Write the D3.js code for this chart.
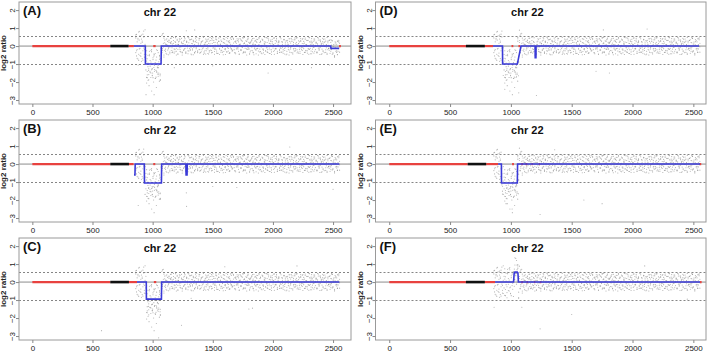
<!DOCTYPE html>
<html>
<head>
<meta charset="utf-8">
<script src="https://cdn.jsdelivr.net/npm/d3@7"></script>
<style>
  body { margin: 0; background: #fff; }
  svg { display: block; font-family: "Liberation Sans", Arial, sans-serif; }
</style>
</head>
<body>
<script>
// --- Data ---
const panelNames = ["(A)", "(B)", "(C)", "(D)", "(E)", "(F)"];
const chromLabel = "chr 22";
const xTicks = [0, 500, 1000, 1500, 2000, 2500];
const yTicks = [-3, -2, -1, 0, 1, 2];
const gainLine = 0.58;
const lossLine = -1;

// probe positions shared by all six arrays (same design)
const probeX = [860, 866, 871, 878, 884, 889, 895, 902, 907, 913, 919, 926, 931, 937, 944, 950, 955, 961, 968, 973,
  979, 986, 991, 997, 1003, 1010, 1015, 1021, 1028, 1033, 1040, 1046, 1051, 1057, 1064, 1070, 1076, 1082, 1089, 1094,
  1100, 1107, 1112, 1118, 1125, 1131, 1136, 1143, 1149, 1155, 1161, 1167, 1173, 1179, 1186, 1191, 1197, 1204, 1210, 1215,
  1222, 1228, 1234, 1240, 1246, 1252, 1258, 1265, 1270, 1276, 1283, 1289, 1294, 1301, 1307, 1313, 1319, 1325, 1331, 1338,
  1343, 1349, 1356, 1362, 1367, 1374, 1380, 1386, 1392, 1398, 1404, 1410, 1417, 1422, 1428, 1435, 1441, 1446, 1453, 1459,
  1465, 1471, 1477, 1483, 1490, 1495, 1501, 1508, 1514, 1519, 1526, 1532, 1538, 1544, 1550, 1556, 1563, 1568, 1574, 1581,
  1587, 1592, 1599, 1605, 1611, 1617, 1623, 1629, 1636, 1641, 1647, 1654, 1660, 1665, 1672, 1678, 1684, 1690, 1696, 1702,
  1709, 1714, 1720, 1727, 1733, 1738, 1745, 1751, 1757, 1763, 1769, 1775, 1782, 1787, 1793, 1800, 1806, 1811, 1818, 1824,
  1830, 1836, 1842, 1848, 1855, 1860, 1866, 1873, 1879, 1884, 1891, 1897, 1903, 1909, 1915, 1921, 1928, 1933, 1939, 1946,
  1952, 1957, 1964, 1970, 1976, 1982, 1988, 1994, 2001, 2006, 2012, 2019, 2025, 2030, 2037, 2043, 2049, 2055, 2061, 2067,
  2074, 2079, 2085, 2092, 2098, 2103, 2110, 2116, 2122, 2128, 2134, 2140, 2147, 2152, 2158, 2165, 2171, 2176, 2183, 2189,
  2195, 2201, 2207, 2213, 2220, 2225, 2231, 2238, 2244, 2249, 2256, 2262, 2268, 2274, 2280, 2286, 2293, 2298, 2304, 2311,
  2317, 2322, 2329, 2335, 2341, 2347, 2353, 2359, 2366, 2371, 2377, 2384, 2390, 2395, 2402, 2408, 2414, 2420, 2426, 2432,
  2439, 2444, 2450, 2457, 2463, 2468, 2475, 2481, 2487, 2493, 2499, 2505, 2512, 2517, 2523, 2530, 2536, 2541, 2548, 2554];

// scatter of the probes around their segment level, in steps of 0.013 log2 ratio
const spreadStep = 0.013;
const spreadA = [35, -42, 18, -55, 60, -12, 44, -30, -65, 22, 51, -8, -47, 70, -25, 13, -58, 38, -20, 55,
  -36, 9, 62, -48, 27, -15, 40, -62, 17, -33, 58, -6, -44, 31, -70, 24, 46, -18, 12, -38,
  14, -22, 8, 31, -17, -5, 26, -33, 11, 19, -28, 4, 37, -12, -24, 16, -9, 29, -35, 7,
  22, -15, -3, 33, -26, 12, -19, 25, 6, -31, 17, -8, 39, -21, 2, -14, 28, -37, 10, 21,
  -6, -27, 34, -11, 15, -20, 3, 26, -30, 9, 18, -16, 41, -4, -25, 13, -34, 22, 7, -12,
  30, -19, -2, 24, -29, 11, 36, -7, -23, 16, -14, 27, -32, 5, 20, -9, 38, -18, 1, -26,
  14, 31, -13, -36, 8, 23, -5, -21, 17, -28, 35, -10, 4, -17, 29, -3, 19, -33, 12, -8,
  25, -22, 6, 32, -15, -1, 21, -30, 10, 37, -24, 3, -12, 27, -6, 16, -35, 13, -19, 24,
  8, -27, 33, -4, -16, 20, -11, 28, -38, 7, 15, -23, 2, 30, -13, -29, 18, 9, -20, 36,
  -7, -15, 23, -32, 11, 4, -25, 19, -2, 34, -18, 12, -9, 26, -31, 6, 21, -14, 39, -26,
  1, 17, -21, 29, -10, -4, 24, -34, 14, 8, -17, 31, -6, -28, 20, 3, -12, 27, -22, 10,
  35, -16, 5, -30, 18, -8, 23, -3, -19, 32, -11, 13, -27, 7, 25, -20, 2, 38, -14, -33,
  16, 9, -24, 21, -5, 30, -15, 11, -29, 4, 26, -9, -36, 19, 6, -13, 33, -21, 15, -2,
  22, -7, -31, 14, 3, -18, 27, -12, 36, -25, 9, 17, -34, 5, 24, -10, -27, 31, -1, 12];

const spreadB = [-28, 50, -15, 33, -61, 26, -40, 12, 47, -53, -20, 64, -35, 8, 41, -57, 23, -11, -45, 36,
  -9, 58, -24, -50, 19, 43, -31, 6, -56, 30, -13, 49, -38, 21, -66, 15, -27, 52, -4, 34,
  -18, 9, 27, -35, 2, -11, 23, -26, 15, 34, -7, -21, 12, -30, 19, 5, -38, 25, -14, 8,
  31, -23, -3, 17, -29, 11, -16, 36, -9, -25, 21, 4, -33, 14, 27, -19, -6, 30, -12, -37,
  18, 7, -22, 26, -1, -28, 13, 33, -15, 3, -24, 20, -10, 37, -31, 6, 16, -20, 29, -5,
  -34, 22, 10, -17, 32, -27, 1, 24, -13, -8, 35, -30, 15, -2, 21, -36, 9, 26, -18, -4,
  31, -23, 12, -11, 38, -26, 5, 19, -32, 14, -7, 28, -21, 2, 33, -15, -29, 17, -3, 23,
  -12, 30, -35, 8, -19, 25, -6, 36, -24, 11, -28, 4, 20, -14, 34, -9, -31, 16, -1, 27,
  -20, 13, -37, 22, 6, -17, 29, -10, 3, 32, -25, 18, -4, -33, 24, -13, 9, 37, -21, 1,
  15, -27, 30, -8, -16, 26, -36, 12, 7, -23, 35, -11, -2, 19, -30, 14, 22, -19, -7, 31,
  -26, 8, -14, 28, -34, 17, 3, -22, 25, -5, -38, 20, -12, 33, 0, -29, 16, -9, 27, -18,
  5, 36, -24, 11, -3, -32, 21, -15, 29, -6, 10, -27, 34, -20, 2, 24, -11, -35, 18, 8,
  -21, 32, -13, 6, -30, 23, -1, 15, -25, 37, -8, -17, 26, -4, 12, -33, 19, 9, -28, 30,
  -16, 4, -36, 21, -10, 25, -7, -22, 14, 33, -19, 1, -31, 28, -12, 18, -26, 7, 35, -3];

const spreadC = [48, -20, -52, 27, -35, 63, -9, -44, 30, 16, -60, 39, -14, -49, 25, 57, -32, 4, -67, 42,
  15, -38, 53, -21, -58, 34, -5, 45, -27, 61, -16, -52, 10, 37, -43, 68, -29, -11, 55, -47,
  26, -13, -31, 6, 20, -37, 15, -4, 33, -19, 10, -27, 24, 1, -15, 36, -22, 8, -33, 18,
  -7, 29, -25, 13, -38, 4, 22, -12, 31, -29, 17, -1, -20, 35, -9, 27, -34, 11, -17, 25,
  3, -30, 19, -6, 38, -24, 9, -14, 32, -28, 14, -3, 23, -36, 7, -18, 30, -11, 21, -32,
  12, -25, 37, -2, -19, 26, -8, 16, -35, 4, 28, -21, 10, -31, 34, -13, 6, -26, 20, -5,
  -37, 15, 29, -16, 2, -23, 33, -10, 24, -30, 8, -15, 36, -20, 13, -1, -28, 22, -12, 31,
  -6, 18, -34, 9, 27, -17, -3, 35, -27, 14, -9, 23, -38, 5, 30, -14, 11, -24, 19, -4,
  32, -29, 7, -11, 25, -33, 16, 0, -21, 37, -13, 21, -30, 3, 28, -18, 10, -36, 17, -7,
  -25, 34, -2, 12, -32, 20, -16, 29, -8, 6, -35, 24, -12, 33, -22, 1, 15, -27, 38, -10,
  19, -5, -31, 26, -19, 9, -37, 22, 4, -14, 31, -26, 13, -3, 27, -34, 8, -20, 35, -11,
  16, -29, 2, 23, -15, -24, 32, -7, 11, -36, 20, -1, 28, -18, 6, -30, 25, -13, 36, -9,
  21, -33, 14, -6, 30, -22, 3, 17, -28, 10, 34, -16, -4, 26, -35, 12, -21, 29, -2, 18,
  -27, 7, 37, -15, -10, 24, -31, 15, -5, 33, -23, 9, -38, 19, 2, -17, 31, -12, 27, -26,
  5, -19, 22, -30, 13, 36, -8, -25, 18, -3];

// probes that fall far below the loss (same region in A-E)
const lossTail = [[950, -2.05], [955, -1.6], [962, -1.9], [966, -1.35], [970, -2.2], [978, -1.4], [985, -1.75],
  [992, -2.5], [996, -1.25], [1000, -1.5], [1008, -2.0], [1012, -2.7], [1016, -1.3], [1024, -1.8], [1031, -2.3],
  [1035, -1.45], [1040, -1.55], [1048, -1.2], [1056, -1.95], [1062, -1.65]];

// stray probes, one list per panel
const strayA = [[880, -1.05], [945, -2.7], [1180, -1.2], [1280, 0.85], [1350, 0.9], [1500, -1.1], [1960, -1.5], [2150, -1.3], [2320, -1.2], [2470, -1.05]];
const strayB = [[880, -2.3], [1280, -1.6], [1282, -2.35], [1500, -1.25], [1700, -1.3], [2140, 0.95], [2500, -1.4]];
const strayC = [[575, -2.7], [1050, -3.1], [1240, -2.4], [1320, -0.9], [1600, 0.85], [1800, -1.5], [1830, -1.45], [2200, 0.9]];
const strayD = [[950, -2.4], [1043, -1.75], [1065, -2.6], [1210, -2.75], [1700, -1.4], [1760, 0.9], [1810, -1.5], [2120, 0.95]];
const strayE = [[960, -2.2], [1010, -2.5], [1240, -2.8], [1360, 0.8], [1600, -2.0], [1750, -2.2]];
const strayF = [[862, -1.4], [1050, 0.95], [1090, -1.4], [1240, -2.6], [1500, -1.8], [2100, 0.9], [2450, -0.95]];

// segmented calls [start, end, log2 ratio] (blue)
const callsA = [[844, 939, 0], [940, 1070, -1], [1072, 2480, 0], [2483, 2550, -0.13]];
const callsB = [[845, 853, -0.6], [855, 931, 0], [932, 1073, -1.05], [1075, 1276, 0], [1278, 1286, -0.6], [1288, 2552, 0]];
const callsC = [[870, 947, 0], [948, 1073, -0.95], [1075, 2552, 0]];
const callsD = [[853, 931, 0], [932, 1053, -1], [1083, 1199, 0], [1200, 1206, -0.65], [1207, 2547, 0]];
const callsE = [[895, 922, 0], [923, 1053, -1.05], [1055, 2555, 0]];
const callsF = [[870, 1022, 0], [1027, 1032, 0.5], [1033, 1052, 0.56], [1057, 1058, 0.5], [1062, 2555, 0]];

// no-call stretches (red) and the centromere gap (black)
const redA = [[0, 648], [800, 844], [1005, 1025], [2550, 2565]];
const redB = [[0, 648], [800, 842], [1005, 1022]];
const redC = [[0, 648], [803, 870], [1010, 1030]];
const redD = [[0, 630], [786, 853], [1005, 1020], [1062, 1075]];
const redE = [[0, 645], [797, 895], [1010, 1025], [1085, 1100], [1120, 1135], [1170, 1180], [1230, 1240], [2550, 2565]];
const redF = [[0, 630], [786, 870], [1085, 1100], [1130, 1140], [1190, 1200], [1240, 1250], [2555, 2568]];
const blackA = [[648, 800]];
const blackB = [[648, 803]];
const blackC = [[648, 803]];
const blackD = [[630, 786]];
const blackE = [[645, 797]];
const blackF = [[630, 786]];

const panels = [
  { name: panelNames[0], col: 0, row: 0, calls: callsA, red: redA, black: blackA, stray: strayA, tail: true },
  { name: panelNames[1], col: 0, row: 1, calls: callsB, red: redB, black: blackB, stray: strayB, tail: true },
  { name: panelNames[2], col: 0, row: 2, calls: callsC, red: redC, black: blackC, stray: strayC, tail: true },
  { name: panelNames[3], col: 1, row: 0, calls: callsD, red: redD, black: blackD, stray: strayD, tail: true },
  { name: panelNames[4], col: 1, row: 1, calls: callsE, red: redE, black: blackE, stray: strayE, tail: true },
  { name: panelNames[5], col: 1, row: 2, calls: callsF, red: redF, black: blackF, stray: strayF, tail: false }
];

// --- Layout ---
const W = 709, H = 353;
const cols = [
  { x0: 19, x1: 351, domain: [-111, 2649], title: 1060 },
  { x0: 375.5, x1: 706, domain: [-113, 2604], title: 1135 }
];
const rowTops = [2, 120, 238];
const boxH = 102;
const yDomain = [-3.22, 2.45];

const svg = d3.select("body").append("svg")
  .attr("width", W)
  .attr("height", H)
  .attr("viewBox", `0 0 ${W} ${H}`);

svg.append("rect").attr("width", W).attr("height", H).attr("fill", "#fff");

function levelAt(calls, x) {
  const c = calls.find(s => x >= s[0] && x <= s[1]);
  return c ? c[2] : 0;
}

panels.forEach(p => {
  const col = cols[p.col];
  const top = rowTops[p.row];
  const bottom = top + boxH;

  const x = d3.scaleLinear().domain(col.domain).range([col.x0, col.x1]);
  const y = d3.scaleLinear().domain(yDomain).range([bottom, top]);

  const g = svg.append("g");

  // reference lines
  g.append("line")
    .attr("x1", col.x0).attr("x2", col.x1)
    .attr("y1", y(0)).attr("y2", y(0))
    .attr("stroke", "#8c8c8c").attr("stroke-width", 1);

  [gainLine, lossLine].forEach(v => {
    g.append("line")
      .attr("x1", col.x0).attr("x2", col.x1)
      .attr("y1", Math.round(y(v)) + 0.5).attr("y2", Math.round(y(v)) + 0.5)
      .attr("stroke", "#777").attr("stroke-width", 0.9)
      .attr("stroke-dasharray", "2,2");
  });

  // probe scatter: three probes per position
  const n = Math.min(probeX.length, spreadA.length, spreadB.length, spreadC.length);
  const probes = [];
  for (let i = 0; i < n; i++) {
    const lv = levelAt(p.calls, probeX[i]);
    probes.push([probeX[i], lv + spreadA[i] * spreadStep]);
    probes.push([probeX[i], lv + spreadB[i] * spreadStep]);
    probes.push([probeX[i], lv + spreadC[i] * spreadStep]);
  }
  if (p.tail) lossTail.forEach(d => probes.push(d));
  p.stray.forEach(d => probes.push(d));

  g.selectAll("circle.probe")
    .data(probes)
    .join("circle")
    .attr("class", "probe")
    .attr("cx", d => x(d[0]))
    .attr("cy", d => y(d[1]))
    .attr("r", 0.55)
    .attr("fill", "#8f8f8f")
    .attr("opacity", 0.7);

  // red / black stretches
  g.selectAll("line.red")
    .data(p.red)
    .join("line")
    .attr("class", "red")
    .attr("x1", d => x(d[0])).attr("x2", d => x(d[1]))
    .attr("y1", y(0)).attr("y2", y(0))
    .attr("stroke", "#e8423f").attr("stroke-width", 2.2);

  g.selectAll("line.gap")
    .data(p.black)
    .join("line")
    .attr("class", "gap")
    .attr("x1", d => x(d[0])).attr("x2", d => x(d[1]))
    .attr("y1", y(0)).attr("y2", y(0))
    .attr("stroke", "#111").attr("stroke-width", 2.6);

  // blue segmentation path
  const verts = [];
  p.calls.forEach(c => { verts.push([c[0], c[2]]); verts.push([c[1], c[2]]); });
  g.append("path")
    .datum(verts)
    .attr("fill", "none")
    .attr("stroke", "#3a3ad8")
    .attr("stroke-width", 1.6)
    .attr("d", d3.line().x(d => x(d[0])).y(d => y(d[1])));

  // frame
  g.append("rect")
    .attr("x", col.x0).attr("y", top)
    .attr("width", col.x1 - col.x0).attr("height", boxH)
    .attr("fill", "none").attr("stroke", "#9a9a9a").attr("stroke-width", 1);

  // axes
  const xAxis = g.append("g")
    .attr("transform", `translate(0,${bottom})`)
    .call(d3.axisBottom(x).tickValues(xTicks).tickFormat(d3.format("d")).tickSize(3).tickPadding(2));
  xAxis.select(".domain").remove();
  xAxis.selectAll("line").attr("stroke", "#888");
  xAxis.selectAll("text").style("font-size", "8px").attr("fill", "#222");

  const yAxis = g.append("g")
    .attr("transform", `translate(${col.x0},0)`)
    .call(d3.axisLeft(y).tickValues(yTicks).tickFormat(d3.format("d")).tickSize(3));
  yAxis.select(".domain").remove();
  yAxis.selectAll("line").attr("stroke", "#888");
  yAxis.selectAll("text")
    .attr("x", null).attr("dy", null)
    .attr("text-anchor", "middle")
    .attr("transform", "translate(-4,0) rotate(-90)")
    .style("font-size", "8px").attr("fill", "#222");

  g.append("text")
    .attr("transform", `translate(${col.x0 - 13},${top + boxH / 2}) rotate(-90)`)
    .attr("text-anchor", "middle")
    .style("font-size", "8px").style("font-weight", "bold")
    .attr("fill", "#222")
    .text("log2 ratio");

  // titles
  g.append("text")
    .attr("x", col.x0 + 4).attr("y", top + 13)
    .style("font-size", "13px").style("font-weight", "bold")
    .attr("fill", "#111")
    .text(p.name);

  g.append("text")
    .attr("x", x(col.title)).attr("y", top + 14)
    .attr("text-anchor", "middle")
    .style("font-size", "11px").style("font-weight", "bold")
    .attr("fill", "#111")
    .text(chromLabel);
});
</script>
</body>
</html>
